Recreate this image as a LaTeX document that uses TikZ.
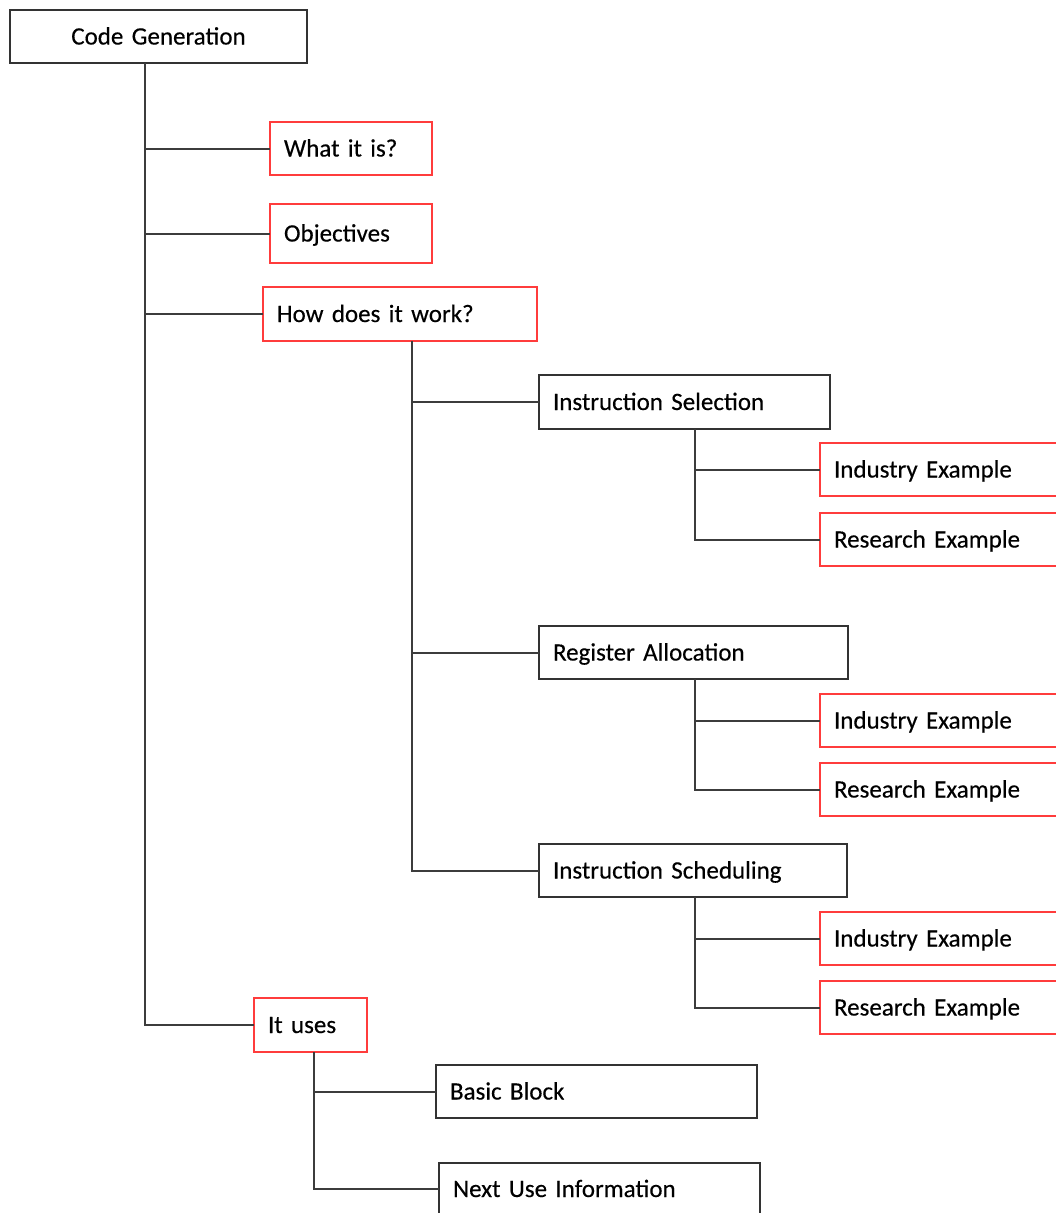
\documentclass[tikz,border=0pt]{standalone}
\usepackage{fontspec}
\setmainfont{Carlito}[WordSpace=0.75]
\definecolor{boxgray}{HTML}{333333}
\definecolor{boxred}{HTML}{FF3C3C}
\definecolor{linegray}{HTML}{3C3C3C}
\begin{document}
\begin{tikzpicture}[x=1pt,y=-1pt,
  box/.style={draw=boxgray, line width=2pt, anchor=north west,
    inner xsep=14pt, inner ysep=0pt, outer sep=0pt, minimum height=53pt,
    align=left, text height=16pt, text depth=0pt,
    font=\fontsize{25}{30}\selectfont\addfontfeatures{FakeBold=0.35}},
  redbox/.style={box, draw=boxred},
  link/.style={draw=linegray, line width=2pt}]
\useasboundingbox[fill=white] (0,0) rectangle (1056,1213);

% root and first level
\node[box, text width=269pt, align=center] (cg) at (10,10) {Code Generation};
\node[redbox, text width=134pt] (what) at (270,122) {What it is?};
\node[redbox, text width=134pt, minimum height=59pt] (obj) at (270,204) {Objectives};
\node[redbox, text width=246pt, minimum height=54pt] (how) at (263,287) {How does it work?};
\node[redbox, text width=85pt, minimum height=54pt] (uses) at (254,998) {It uses};

% phases of code generation
\node[box, text width=263pt, minimum height=54pt] (isel) at (539,375) {Instruction Selection};
\node[box, text width=281pt] (ralloc) at (539,626) {Register Allocation};
\node[box, text width=280pt] (isched) at (539,844) {Instruction Scheduling};

% examples for each phase
\node[redbox, text width=222pt] (ind1) at (820,443) {Industry Example};
\node[redbox, text width=222pt] (res1) at (820,513) {Research Example};
\node[redbox, text width=222pt] (ind2) at (820,694) {Industry Example};
\node[redbox, text width=222pt] (res2) at (820,763) {Research Example};
\node[redbox, text width=222pt] (ind3) at (820,912) {Industry Example};
\node[redbox, text width=222pt] (res3) at (820,981) {Research Example};

% what code generation uses
\node[box, text width=293pt] (bb) at (436,1065) {Basic Block};
\node[box, text width=293pt, minimum height=52pt] (nui) at (439,1163) {Next Use Information};

% connectors
\draw[link] ([xshift=135pt]cg.south west) |- (what.west);
\draw[link] ([xshift=135pt]cg.south west) |- (obj.west);
\draw[link] ([xshift=135pt]cg.south west) |- (how.west);
\draw[link] ([xshift=135pt]cg.south west) |- (uses.west);

\draw[link] ([xshift=149pt]how.south west) |- (isel.west);
\draw[link] ([xshift=149pt]how.south west) |- (ralloc.west);
\draw[link] ([xshift=149pt]how.south west) |- (isched.west);

\draw[link] ([xshift=156pt]isel.south west) |- (ind1.west);
\draw[link] ([xshift=156pt]isel.south west) |- (res1.west);
\draw[link] ([xshift=156pt]ralloc.south west) |- (ind2.west);
\draw[link] ([xshift=156pt]ralloc.south west) |- (res2.west);
\draw[link] ([xshift=156pt]isched.south west) |- (ind3.west);
\draw[link] ([xshift=156pt]isched.south west) |- (res3.west);

\draw[link] ([xshift=60pt]uses.south west) |- (bb.west);
\draw[link] ([xshift=60pt]uses.south west) |- (nui.west);
\end{tikzpicture}
\end{document}
